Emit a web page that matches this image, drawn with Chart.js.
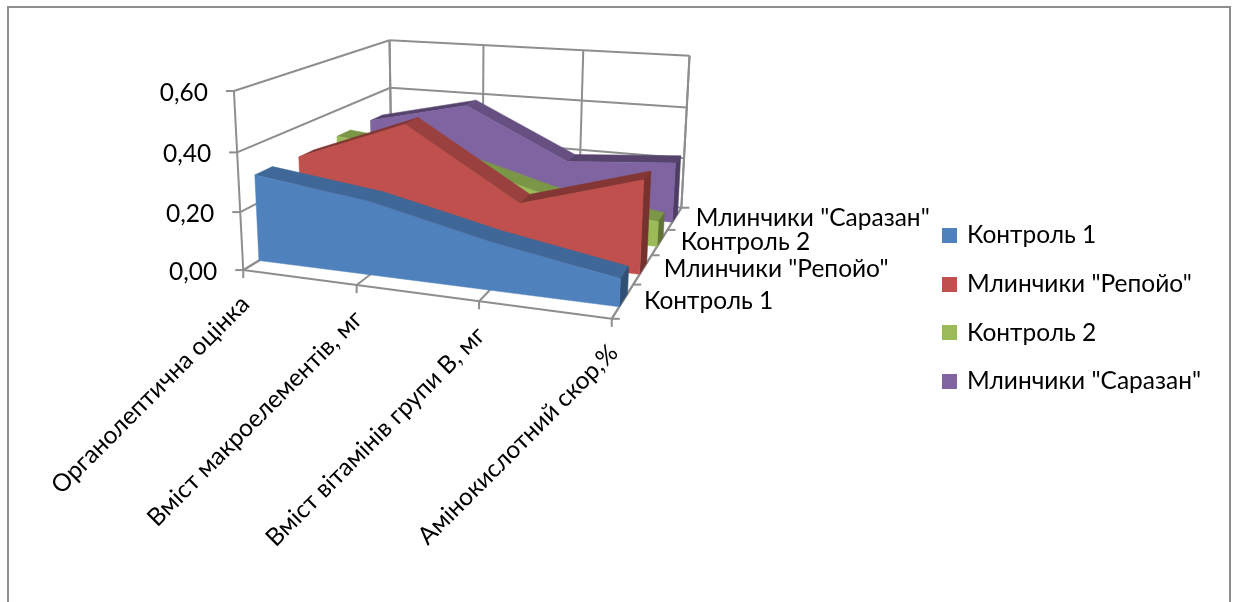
<!DOCTYPE html>
<html>
<head>
<meta charset="utf-8">
<style>
  body { margin: 0; background: #fff; }
  canvas { display: block; }
</style>
<script src="https://cdn.jsdelivr.net/npm/chart.js@4/dist/chart.umd.js"></script>
</head>
<body>
<canvas id="chart" width="1237" height="602"></canvas>
<script>
const categories = ['Органолептична оцінка', 'Вміст макроелементів, мг', 'Вміст вітамінів групи В, мг', 'Амінокислотний скор,%'];
const seriesNames = ['Контроль 1', 'Млинчики "Репойо"', 'Контроль 2', 'Млинчики "Саразан"'];
const control1 = [0.30, 0.25, 0.16, 0.09];
const repoyo = [0.29, 0.44, 0.20, 0.32];
const control2 = [0.30, 0.26, 0.15, 0.09];
const sarazan = [0.30, 0.39, 0.20, 0.23];
const seriesColors = ['#4f81bd', '#c0504d', '#9bbb59', '#8064a2'];

const FONT_FAMILY = 'Lato, "Open Sans", sans-serif';
const FONT_SIZE = 24.5;
const FONT = FONT_SIZE + 'px ' + FONT_FAMILY;
const GRID = '#8e8e8e';

// Box corners on screen: [category, depth, value] -> [x, y]
const anchors = [
  [0, 0, 0, 243, 269], [1 / 3, 0, 0, 357, 285], [2 / 3, 0, 0, 480, 302], [1, 0, 0, 611, 320],
  [1, 1, 0, 681, 207], [0, 1, 0, 392, 181],
  [0, 0, 1 / 3, 240, 211], [0, 0, 2 / 3, 237, 152], [0, 0, 1, 234, 92],
  [0, 1, 2 / 3, 390, 87], [0, 1, 1, 389, 40],
  [1, 1, 2 / 3, 687, 107], [1, 1, 1, 689, 55],
  [1 / 3, 1, 1, 484, 46], [2 / 3, 1, 1, 584, 51]
];

// Least squares fit of the perspective transform
function fitProjection(points) {
  const n = 11;
  const ata = Array.from({ length: n }, () => new Array(n + 1).fill(0));
  const addRow = (row, rhs) => {
    for (let i = 0; i < n; i++) {
      for (let j = 0; j < n; j++) ata[i][j] += row[i] * row[j];
      ata[i][n] += row[i] * rhs;
    }
  };
  points.forEach(([u, v, w, x, y]) => {
    addRow([1, u, v, w, 0, 0, 0, 0, -x * u, -x * v, -x * w], x);
    addRow([0, 0, 0, 0, 1, u, v, w, -y * u, -y * v, -y * w], y);
  });
  for (let c = 0; c < n; c++) {
    let pivot = c;
    for (let r = c + 1; r < n; r++) if (Math.abs(ata[r][c]) > Math.abs(ata[pivot][c])) pivot = r;
    [ata[c], ata[pivot]] = [ata[pivot], ata[c]];
    for (let r = 0; r < n; r++) {
      if (r === c) continue;
      const f = ata[r][c] / ata[c][c];
      for (let k = c; k <= n; k++) ata[r][k] -= f * ata[c][k];
    }
  }
  return ata.map((row, i) => row[n] / row[i]);
}

const m = fitProjection(anchors);

function project(u, v, w) {
  const d = 1 + m[8] * u + m[9] * v + m[10] * w;
  return [(m[0] + m[1] * u + m[2] * v + m[3] * w) / d, (m[4] + m[5] * u + m[6] * v + m[7] * w) / d];
}

function shade(hex, k) {
  const c = parseInt(hex.slice(1), 16);
  return `rgb(${Math.round((c >> 16) * k)},${Math.round(((c >> 8) & 255) * k)},${Math.round((c & 255) * k)})`;
}

function polygon(ctx, pts, fillStyle) {
  ctx.beginPath();
  pts.forEach((p, i) => (i ? ctx.lineTo(p[0], p[1]) : ctx.moveTo(p[0], p[1])));
  ctx.closePath();
  ctx.fillStyle = fillStyle;
  ctx.fill();
  ctx.strokeStyle = fillStyle;
  ctx.lineWidth = 0.5;
  ctx.stroke();
}

const decimalX = (scale, i) => (scale.getPixelForValue(i) - scale.left) / scale.width;
const decimalY = (scale, val) => (scale.bottom - scale.getPixelForValue(val)) / scale.height;

// Area ribbon standing in its own depth slot
class Area3DController extends Chart.LineController {
  draw() {
    const ctx = this.chart.ctx;
    const meta = this.getMeta();
    const color = this.getDataset().backgroundColor;
    const slots = this.chart.data.datasets.length;
    const front = (this.index + 1 / 3) / slots;
    const back = (this.index + 0.72) / slots;

    const top = meta.data.map((el, i) => ({
      u: decimalX(meta.xScale, i),
      w: decimalY(meta.yScale, this.getParsed(i).y)
    }));
    const last = top[top.length - 1];

    ctx.save();
    // top strips, darker where the surface climbs
    for (let i = 0; i < top.length - 1; i++) {
      const a = top[i];
      const b = top[i + 1];
      polygon(ctx, [
        project(a.u, front, a.w), project(b.u, front, b.w),
        project(b.u, back, b.w), project(a.u, back, a.w)
      ], shade(color, b.w > a.w ? 0.68 : 0.8));
    }
    // right end
    polygon(ctx, [
      project(last.u, front, last.w), project(last.u, back, last.w),
      project(last.u, back, 0), project(last.u, front, 0)
    ], shade(color, 0.62));
    // front face
    polygon(ctx, [
      project(top[0].u, front, 0),
      ...top.map(t => project(t.u, front, t.w)),
      project(last.u, front, 0)
    ], color);
    ctx.restore();
  }
}
Area3DController.id = 'area3d';
Area3DController.defaults = Chart.LineController.defaults;
Chart.register(Area3DController);

function line(ctx, a, b) {
  ctx.beginPath();
  ctx.moveTo(a[0], a[1]);
  ctx.lineTo(b[0], b[1]);
  ctx.stroke();
}

// Walls, floor, ticks and axis text
const boxAxes = {
  id: 'boxAxes',
  beforeDatasetsDraw(chart) {
    const ctx = chart.ctx;
    const xs = chart.scales.x;
    const ys = chart.scales.y;
    ctx.save();
    ctx.strokeStyle = GRID;
    ctx.lineWidth = 2;
    ctx.fillStyle = '#000';
    ctx.font = FONT;

    // value gridlines and labels
    ys.ticks.forEach(t => {
      const w = decimalY(ys, t.value);
      line(ctx, project(0, 0, w), project(0, 1, w));
      line(ctx, project(0, 1, w), project(1, 1, w));
      const p = project(0, 0, w);
      line(ctx, p, [p[0] - 8, p[1]]);
      ctx.textAlign = 'right';
      ctx.textBaseline = 'middle';
      ctx.fillText(t.label, p[0] - 26, p[1] + 2);
    });

    // box edges
    line(ctx, project(0, 0, 0), project(0, 0, 1));
    line(ctx, project(0, 1, 0), project(0, 1, 1));
    line(ctx, project(1, 1, 0), project(1, 1, 1));
    line(ctx, project(0, 0, 0), project(1, 0, 0));
    line(ctx, project(1, 0, 0), project(1, 1, 0));

    // category gridlines, ticks and rotated labels
    xs.ticks.forEach((t, i) => {
      const u = decimalX(xs, i);
      line(ctx, project(u, 0, 0), project(u, 1, 0));
      line(ctx, project(u, 1, 0), project(u, 1, 1));
      const p = project(u, 0, 0);
      line(ctx, p, [p[0], p[1] + 8]);
      ctx.save();
      ctx.translate(p[0] + 2, p[1] + 30);
      ctx.rotate(-45 * Math.PI / 180);
      ctx.textAlign = 'right';
      ctx.textBaseline = 'middle';
      ctx.fillText(xs.getLabelForValue(t.value), 0, 0);
      ctx.restore();
    });

    // depth ticks and series names
    const slots = chart.data.labels.length;
    for (let i = 0; i <= slots; i++) {
      const p = project(1, i / slots, 0);
      line(ctx, p, [p[0] + 8, p[1]]);
    }
    seriesNames.forEach((name, i) => {
      const p = project(1, (i + 0.5) / seriesNames.length, 0);
      ctx.textAlign = 'left';
      ctx.textBaseline = 'middle';
      ctx.fillText(name, p[0] + 21, p[1]);
    });
    ctx.restore();
  }
};

// Outer frame of the chart object
const outerFrame = {
  id: 'outerFrame',
  beforeDraw(chart) {
    const ctx = chart.ctx;
    ctx.save();
    ctx.strokeStyle = '#8e8e8e';
    ctx.lineWidth = 2;
    ctx.beginPath();
    ctx.moveTo(8, 602);
    ctx.lineTo(8, 7);
    ctx.lineTo(1230, 7);
    ctx.lineTo(1230, 602);
    ctx.stroke();
    ctx.restore();
  }
};

// Square legend swatch, wider than the slot Chart.js reserves for it
function swatch(color) {
  const c = document.createElement('canvas');
  c.width = 15;
  c.height = 15;
  const g = c.getContext('2d');
  g.fillStyle = color;
  g.fillRect(0, 0, 15, 15);
  return c;
}

const seriesValues = [control1, repoyo, control2, sarazan];

new Chart(document.getElementById('chart'), {
  type: 'area3d',
  data: {
    labels: categories,
    datasets: seriesNames.map((name, i) => ({
      label: name,
      data: seriesValues[i],
      backgroundColor: seriesColors[i],
      borderColor: seriesColors[i],
      borderWidth: 0,
      pointStyle: swatch(seriesColors[i])
    }))
  },
  options: {
    responsive: false,
    animation: false,
    events: [],
    layout: { padding: { top: 15, right: 26 } },
    scales: {
      x: { type: 'category', display: false, offset: false, ticks: { autoSkip: false } },
      y: {
        type: 'linear',
        display: false,
        min: 0,
        max: 0.6,
        ticks: { stepSize: 0.2, callback: v => v.toFixed(2).replace('.', ',') }
      }
    },
    plugins: {
      tooltip: { enabled: false },
      legend: {
        position: 'right',
        labels: {
          font: { size: FONT_SIZE, family: FONT_FAMILY },
          color: '#000',
          usePointStyle: true,
          boxWidth: 10,
          boxHeight: 15,
          padding: 24.2
        }
      }
    }
  },
  plugins: [boxAxes, outerFrame]
});
</script>
</body>
</html>
